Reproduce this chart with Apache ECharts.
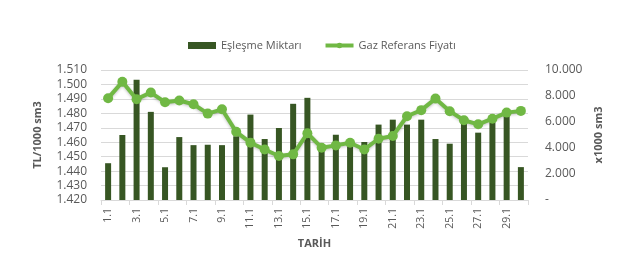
<!DOCTYPE html>
<html>
<head>
<meta charset="utf-8">
<script src="https://cdn.jsdelivr.net/npm/echarts@6/dist/echarts.min.js"></script>
<style>
html,body{margin:0;padding:0;background:#fff;}
#c{width:626px;height:258px;}
</style>
</head>
<body>
<div id="c"></div>
<script>
const categories = ['1.1','2.1','3.1','4.1','5.1','6.1','7.1','8.1','9.1','10.1','11.1','12.1','13.1','14.1','15.1','16.1','17.1','18.1','19.1','20.1','21.1','22.1','23.1','24.1','25.1','26.1','27.1','28.1','29.1','30.1'];
const matchedVolume = [2830, 5000, 9250, 6780, 2520, 4840, 4220, 4250, 4220, 4900, 6570, 4690, 5540, 7400, 7860, 3900, 5020, 4610, 4460, 5800, 6180, 5800, 6180, 4690, 4330, 5900, 5180, 5950, 6450, 2530];
const gasPrice = [1.4905, 1.5018, 1.4898, 1.4944, 1.4877, 1.4889, 1.4863, 1.4798, 1.4828, 1.4672, 1.4597, 1.4550, 1.4505, 1.4516, 1.4662, 1.4562, 1.4578, 1.4596, 1.4550, 1.4624, 1.4643, 1.4780, 1.4822, 1.4902, 1.4815, 1.4752, 1.4724, 1.4763, 1.4805, 1.4817];
const seriesNames = ['Eşleşme Miktarı', 'Gaz Referans Fiyatı'];
const leftAxisName = 'TL/1000 sm3';
const rightAxisName = 'x1000 sm3';
const xAxisName = 'TARİH';

const font = 'Open Sans, Liberation Sans, sans-serif';
const grey = '#595959';
const lineColor = '#70b844';
const chart = echarts.init(document.getElementById('c'), null, {renderer:'canvas'});
chart.setOption({
  animation: false,
  textStyle: {fontFamily: font},
  legend: {
    top: 35, left: 183, itemGap: 22,
    textStyle: {color: grey, fontSize: 11, fontFamily: font},
    data: [
      {name: seriesNames[0], icon: 'rect', itemStyle:{color:'#375623'}},
      {name: seriesNames[1], lineStyle:{width: 4, color: lineColor}, itemStyle:{color: lineColor}}
    ],
    itemWidth: 28, itemHeight: 7
  },
  grid: {left: 101, right: 98, top: 70, bottom: 58},
  xAxis: {
    type: 'category', data: categories, boundaryGap: true,
    name: xAxisName, nameLocation: 'middle', nameGap: 38,
    nameTextStyle: {color: grey, fontWeight: 'bold', fontSize: 11},
    axisLine: {lineStyle: {color: '#d9d9d9'}},
    axisTick: {show: true, interval: 1, length: 5, lineStyle: {color: '#d9d9d9'}},
    axisLabel: {interval: 1, rotate: 90, color: grey, fontSize: 10.5, margin: 8}
  },
  yAxis: [
    {
      type: 'value', min: 1.42, max: 1.51, interval: 0.01,
      name: leftAxisName, nameLocation: 'middle', nameGap: 58, nameRotate: 90,
      nameTextStyle: {color: grey, fontWeight: 'bold', fontSize: 11},
      axisLabel: {color: grey, fontSize: 12, margin: 14, formatter: v => v.toFixed(3)},
      axisLine: {show: false}, axisTick: {show: false},
      splitLine: {lineStyle: {color: '#d9d9d9'}}
    },
    {
      type: 'value', min: 0, max: 10000, interval: 2000,
      name: rightAxisName, nameLocation: 'middle', nameGap: 61, nameRotate: 90,
      nameTextStyle: {color: grey, fontWeight: 'bold', fontSize: 11},
      axisLabel: {color: grey, fontSize: 12, margin: 17, align: 'left',
        formatter: v => v === 0 ? '-' : (v/1000).toFixed(3)},
      axisLine: {show: false}, axisTick: {show: false},
      splitLine: {show: false}
    }
  ],
  series: [
    {
      name: seriesNames[0], type: 'bar', yAxisIndex: 1, data: matchedVolume,
      barWidth: 6, itemStyle: {color: '#375623'}
    },
    {
      name: seriesNames[1], type: 'line', yAxisIndex: 0, data: gasPrice,
      symbol: 'circle', symbolSize: 10, showAllSymbol: true,
      lineStyle: {color: lineColor, width: 4, shadowColor:'rgba(0,0,0,0.25)', shadowBlur:3, shadowOffsetY:1},
      itemStyle: {color: lineColor}
    }
  ]
});
</script>
</body>
</html>
